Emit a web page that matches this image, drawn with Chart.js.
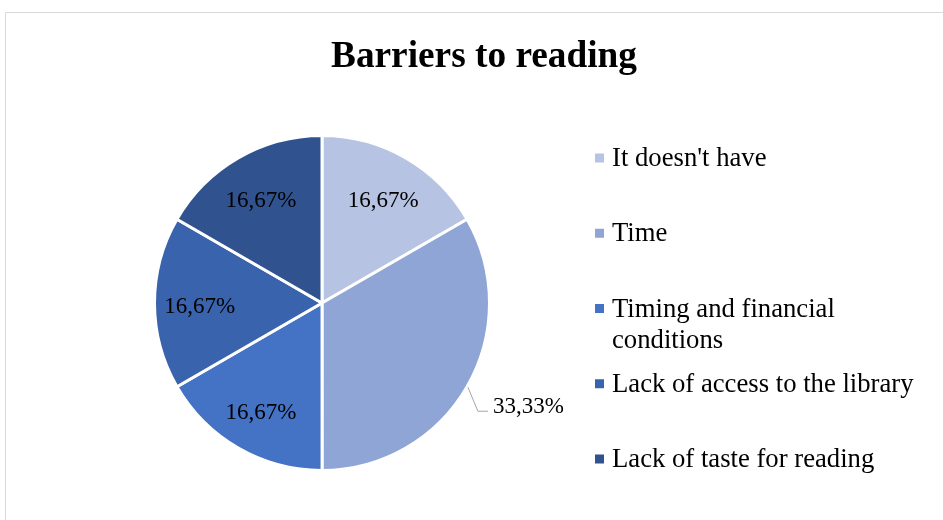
<!DOCTYPE html>
<html>
<head>
<meta charset="utf-8">
<script src="https://cdn.jsdelivr.net/npm/chart.js@4"></script>
<style>
  html, body { margin: 0; padding: 0; background: #ffffff; }
  #wrap { width: 943px; height: 520px; position: relative; }
</style>
</head>
<body>
<div id="wrap"><canvas id="c" width="943" height="520"></canvas></div>
<script>
const titleText = "Barriers to reading";
const categories = [
  "It doesn't have",
  "Time",
  "Timing and financial conditions",
  "Lack of access to the library",
  "Lack of taste for reading"
];
const shares = [16.67, 33.33, 16.67, 16.67, 16.67];
const sliceColors = ["#B7C3E2", "#8FA5D5", "#4472C4", "#3A63AD", "#30538F"];

const SERIF = "'Liberation Serif', 'Times New Roman', serif";

function fmtPct(v) {
  return v.toFixed(2).replace('.', ',') + '%';
}

const framePlugin = {
  id: 'frame',
  beforeDraw(chart) {
    const ctx = chart.ctx;
    ctx.save();
    ctx.fillStyle = '#ffffff';
    ctx.fillRect(0, 0, chart.width, chart.height);
    ctx.strokeStyle = '#D9D9D9';
    ctx.lineWidth = 1;
    ctx.beginPath();
    ctx.moveTo(5.5, chart.height);
    ctx.lineTo(5.5, 12.5);
    ctx.lineTo(chart.width, 12.5);
    ctx.stroke();
    ctx.restore();
  },
  afterDraw(chart) {
    const ctx = chart.ctx;
    ctx.save();
    ctx.fillStyle = '#000000';
    ctx.font = "bold 37.3px " + SERIF;
    ctx.textAlign = 'center';
    ctx.textBaseline = 'middle';
    ctx.fillText(titleText, 484, 57);
    ctx.restore();
  }
};

const labelPlugin = {
  id: 'sliceLabels',
  afterDatasetsDraw(chart) {
    const ctx = chart.ctx;
    const meta = chart.getDatasetMeta(0);
    const data = chart.data.datasets[0].data;
    const total = data.reduce((a, b) => a + b, 0);
    ctx.save();
    ctx.font = "23px " + SERIF;
    ctx.fillStyle = '#000000';
    meta.data.forEach((arc, i) => {
      const p = arc.getProps(['x', 'y', 'startAngle', 'endAngle', 'outerRadius'], true);
      const mid = (p.startAngle + p.endAngle) / 2;
      const txt = fmtPct(data[i] / total * 100);
      if (data[i] / total > 0.3) {
        const r = p.outerRadius + 1;
        const x0 = p.x + Math.cos(mid) * r;
        const y0 = p.y + Math.sin(mid) * r;
        const x1 = x0 + 10, y1 = y0 + 24;
        const x2 = x1 + 10;
        ctx.strokeStyle = '#A6A6A6';
        ctx.lineWidth = 1;
        ctx.beginPath();
        ctx.moveTo(x0, y0);
        ctx.lineTo(x1, y1);
        ctx.lineTo(x2, y1);
        ctx.stroke();
        ctx.textAlign = 'left';
        ctx.textBaseline = 'middle';
        ctx.fillText(txt, x2 + 5, y1 - 4);
      } else {
        const r = p.outerRadius * 0.73;
        ctx.textAlign = 'center';
        ctx.textBaseline = 'middle';
        ctx.fillText(txt, p.x + Math.cos(mid) * r, p.y + Math.sin(mid) * r + 4);
      }
    });
    ctx.restore();
  }
};

const legendPlugin = {
  id: 'sideLegend',
  afterDraw(chart) {
    const ctx = chart.ctx;
    const labels = chart.data.labels;
    const colors = chart.data.datasets[0].backgroundColor;
    const x0 = 595, textX = 612, y0 = 158, step = 75.25, maxW = 315, lineH = 31;
    ctx.save();
    ctx.font = "26.7px " + SERIF;
    ctx.textAlign = 'left';
    ctx.textBaseline = 'middle';
    labels.forEach((lab, i) => {
      const y = y0 + i * step;
      ctx.fillStyle = colors[i];
      ctx.fillRect(x0, y - 4.5, 9, 9);
      const words = lab.split(' ');
      const lines = [];
      let cur = '';
      words.forEach(w => {
        const test = cur ? cur + ' ' + w : w;
        if (ctx.measureText(test).width > maxW && cur) {
          lines.push(cur);
          cur = w;
        } else {
          cur = test;
        }
      });
      if (cur) lines.push(cur);
      ctx.fillStyle = '#000000';
      lines.forEach((ln, j) => ctx.fillText(ln, textX, y + 1 + j * lineH));
    });
    ctx.restore();
  }
};

new Chart(document.getElementById('c'), {
  type: 'pie',
  data: {
    labels: categories,
    datasets: [{
      data: shares,
      backgroundColor: sliceColors,
      borderColor: '#ffffff',
      borderWidth: 3,
      hoverBorderWidth: 3,
      offset: 0,
      hoverOffset: 0
    }]
  },
  options: {
    responsive: false,
    animation: false,
    devicePixelRatio: 1,
    events: [],
    layout: { padding: { left: 153, right: 452, top: 134, bottom: 48 } },
    plugins: {
      legend: { display: false },
      title: { display: false },
      tooltip: { enabled: false }
    }
  },
  plugins: [framePlugin, labelPlugin, legendPlugin]
});
</script>
</body>
</html>
